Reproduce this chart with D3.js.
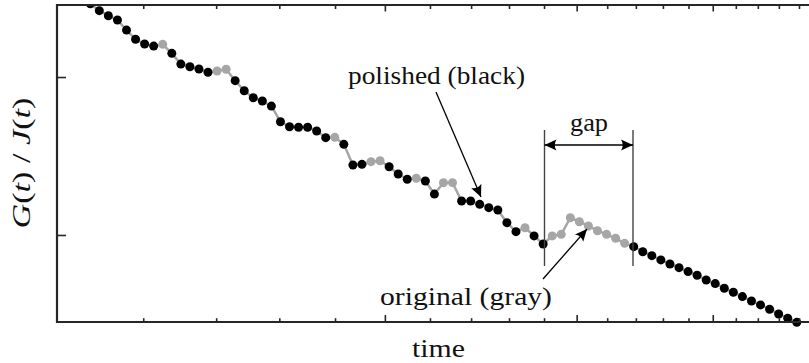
<!DOCTYPE html>
<html>
<head>
<meta charset="utf-8">
<script src="https://cdn.jsdelivr.net/npm/d3@7"></script>
<style>
  html, body { margin: 0; padding: 0; background: #fff; }
  svg { display: block; }
</style>
</head>
<body>
<svg id="chart" width="809" height="363"></svg>
<script>
// ---- data ----
const times = [10.729, 10.936, 11.147, 11.363, 11.583, 11.807, 12.035, 12.268, 12.505, 12.747,
  12.993, 13.244, 13.500, 13.761, 14.027, 14.298, 14.574, 14.856, 15.143, 15.436,
  15.734, 16.038, 16.348, 16.664, 16.986, 17.314, 17.649, 17.990, 18.338, 18.693,
  19.054, 19.422, 19.798, 20.181, 20.571, 20.969, 21.374, 21.787, 22.208, 22.637,
  23.075, 23.521, 23.976, 24.440, 24.913, 25.395, 25.886, 26.387, 26.897, 27.417,
  27.947, 28.487, 29.038, 29.599, 30.171, 30.754, 31.349, 31.955, 32.573, 33.203,
  33.845, 34.499, 35.166, 35.846, 36.539, 37.246, 37.966, 38.700, 39.448, 40.211,
  40.989, 41.781, 42.589, 43.413, 44.252, 45.108, 45.980, 46.869, 47.775];
const original = [2.464, 2.420, 2.388, 2.361, 2.297, 2.239, 2.209, 2.196, 2.207, 2.150,
  2.082, 2.065, 2.051, 2.030, 2.038, 2.049, 1.977, 1.913, 1.869, 1.848,
  1.816, 1.717, 1.685, 1.682, 1.682, 1.658, 1.616, 1.618, 1.574, 1.443,
  1.447, 1.464, 1.470, 1.432, 1.386, 1.353, 1.359, 1.342, 1.259, 1.331,
  1.331, 1.215, 1.215, 1.194, 1.173, 1.158, 1.078, 1.021, 1.046, 0.994,
  0.943, 0.994, 1.004, 1.109, 1.084, 1.057, 1.027, 1.004, 0.979, 0.947,
  0.926, 0.894, 0.869, 0.842, 0.816, 0.793, 0.768, 0.745, 0.715, 0.692,
  0.663, 0.637, 0.610, 0.582, 0.557, 0.530, 0.500, 0.473, 0.447];
// 1 = kept in polished series (black), 0 = only original (gray)
const polishedFlag = [1, 1, 1, 1, 1, 1, 1, 1, 0, 1,
  1, 1, 1, 1, 0, 0, 1, 1, 1, 1,
  1, 1, 1, 1, 1, 1, 1, 0, 1, 1,
  1, 0, 0, 1, 1, 1, 0, 1, 1, 0,
  0, 1, 1, 1, 1, 1, 1, 1, 0, 1,
  1, 0, 0, 0, 0, 0, 0, 0, 0, 0,
  1, 1, 1, 1, 1, 1, 1, 1, 1, 1,
  1, 1, 1, 1, 1, 1, 1, 1, 1];
const xMajorTicks = [20, 30, 40];
const xMinorTicks = [12, 14, 16, 18, 22, 24, 26, 28, 32, 34, 36, 38, 42, 44, 46, 48];
const yTicks = [1, 2];
const xDomain = [10, 50];
const yDomain = [0.449, 2.456];

// ---- layout ----
const FONT = "Liberation Serif";
const svg = d3.select("#chart");
const L = 57, T = 5, B = 322, R = 818.3;
const x = d3.scaleLog().domain(xDomain).range([L, R]);
const y = d3.scaleLinear().domain(yDomain).range([B, T]);
const axisColor = "#262626";

const defs = svg.append("defs");
defs.append("clipPath").attr("id", "clip")
  .append("rect").attr("x", L).attr("y", T).attr("width", R - L).attr("height", 363 - T);
defs.append("marker").attr("id", "arrow")
  .attr("viewBox", "-13 -7 14 14").attr("refX", 0).attr("refY", 0)
  .attr("markerWidth", 14).attr("markerHeight", 14)
  .attr("markerUnits", "userSpaceOnUse").attr("orient", "auto-start-reverse")
  .append("path").attr("d", "M0,0 L-12,-5.5 Q-8.5,0 -12,5.5 Z").attr("fill", "#000");

const pts = times.map((t, i) => ({ t, v: original[i], p: polishedFlag[i] }));

const plot = svg.append("g").attr("clip-path", "url(#clip)");
plot.append("path").datum(pts)
  .attr("fill", "none").attr("stroke", "#a6a6a6").attr("stroke-width", 2.5)
  .attr("stroke-linejoin", "round")
  .attr("d", d3.line().x(d => x(d.t)).y(d => y(d.v)));
plot.selectAll("circle.pt").data(pts).join("circle")
  .attr("class", "pt")
  .attr("cx", d => x(d.t)).attr("cy", d => y(d.v)).attr("r", 4.5)
  .attr("fill", d => d.p ? "#000" : "#a6a6a6");

// ---- axes ----
function ticksAxis(axisFn, vals, size, transform) {
  const g = svg.append("g").attr("transform", transform)
    .call(axisFn.tickValues(vals).tickSize(size).tickSizeOuter(0).tickFormat(""));
  g.select(".domain").remove();
  g.selectAll(".tick line").attr("stroke", axisColor).attr("stroke-width", 1.6);
  return g;
}
ticksAxis(d3.axisBottom(x), xMinorTicks, -3.8, `translate(0,${B})`);
ticksAxis(d3.axisBottom(x), xMajorTicks, -7, `translate(0,${B})`);
ticksAxis(d3.axisTop(x), xMinorTicks, -4, `translate(0,${T})`);
ticksAxis(d3.axisTop(x), xMajorTicks, -6.5, `translate(0,${T})`);
ticksAxis(d3.axisLeft(y), yTicks, -9, `translate(${L},0)`);

svg.append("path")
  .attr("d", `M${R},${T} L${L},${T} L${L},${B} L${R},${B}`)
  .attr("fill", "none").attr("stroke", axisColor).attr("stroke-width", 2.2)
  .attr("stroke-linecap", "square");

// ---- axis labels ----
function label(sel) {
  return sel.attr("font-family", FONT).style("font-family", "'Liberation Serif'")
    .attr("fill", "#111").attr("lengthAdjust", "spacingAndGlyphs");
}
label(svg.append("text")).attr("x", 438.5).attr("y", 357).attr("text-anchor", "middle")
  .attr("font-size", 25).attr("textLength", 53)
  .text("time");

const yl = label(svg.append("text")).attr("transform", "translate(30,163) rotate(-90)")
  .attr("text-anchor", "middle").attr("font-size", 26)
  .attr("textLength", 131);
yl.append("tspan").attr("font-style", "italic").text("G");
yl.append("tspan").text("(");
yl.append("tspan").attr("font-style", "italic").text("t");
yl.append("tspan").text(") / ");
yl.append("tspan").attr("font-style", "italic").text("J");
yl.append("tspan").text("(");
yl.append("tspan").attr("font-style", "italic").text("t");
yl.append("tspan").text(")");

// ---- annotations ----
label(svg.append("text")).attr("x", 348).attr("y", 84).attr("font-size", 26)
  .attr("textLength", 177)
  .text("polished (black)");
svg.append("line").attr("x1", 436).attr("y1", 92).attr("x2", 481).attr("y2", 197)
  .attr("stroke", "#000").attr("stroke-width", 1.3).attr("marker-end", "url(#arrow)");

label(svg.append("text")).attr("x", 380).attr("y", 305).attr("font-size", 26)
  .attr("textLength", 172)
  .text("original (gray)");
svg.append("line").attr("x1", 543).attr("y1", 279).attr("x2", 587).attr("y2", 229)
  .attr("stroke", "#000").attr("stroke-width", 1.3).attr("marker-end", "url(#arrow)");

const gx1 = 544.5, gx2 = 633;
[gx1, gx2].forEach(gx => {
  svg.append("line").attr("x1", gx).attr("x2", gx).attr("y1", 130).attr("y2", 266)
    .attr("stroke", "#444").attr("stroke-width", 1.4);
});
svg.append("line").attr("x1", gx1).attr("x2", gx2).attr("y1", 145).attr("y2", 145)
  .attr("stroke", "#000").attr("stroke-width", 1.3)
  .attr("marker-start", "url(#arrow)").attr("marker-end", "url(#arrow)");
label(svg.append("text")).attr("x", 589).attr("y", 131).attr("text-anchor", "middle")
  .attr("font-size", 26).attr("textLength", 38)
  .text("gap");
</script>
</body>
</html>
